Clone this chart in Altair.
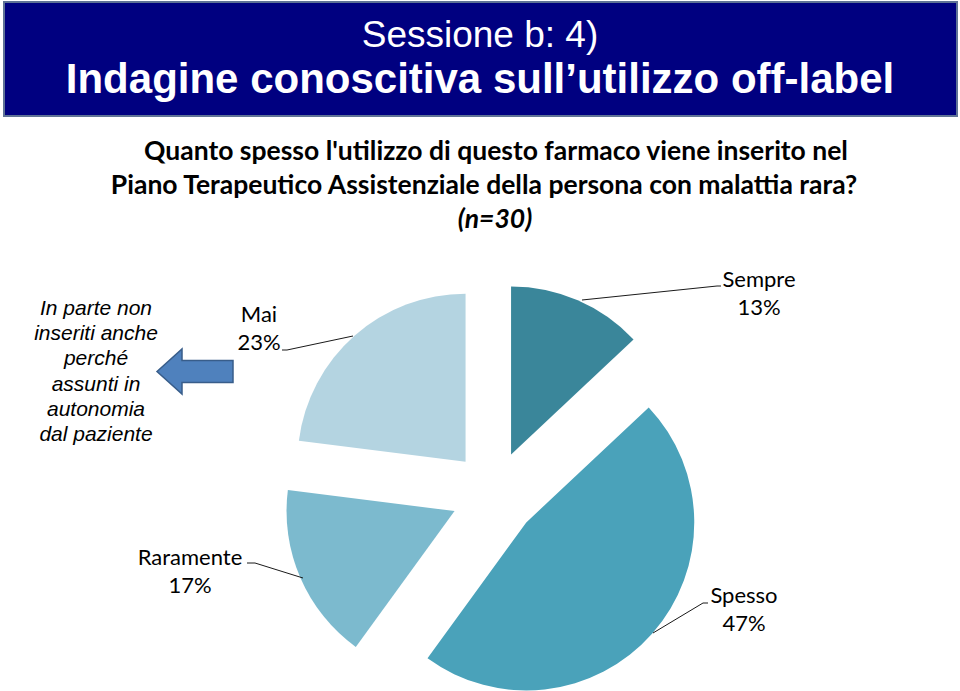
import altair as alt
import pandas as pd

# ---------------- data ----------------
categories = ["Sempre", "Spesso", "Raramente", "Mai"]
percent = [13, 47, 17, 23]
slice_colors = ["#3A869A", "#4AA2BA", "#7CBACE", "#B4D4E1"]

title_lines = ["Sessione b: 4)", "Indagine conoscitiva sull\u2019utilizzo off-label"]
subtitle_lines = [
    "Quanto spesso l'utilizzo di questo farmaco viene inserito nel",
    "Piano Terapeutico Assistenziale della persona con malattia rara?",
    "(n=30)",
]
note_lines = ["In parte non", "inseriti anche", "perché", "assunti in", "autonomia", "dal paziente"]

# ---------------- layout ----------------
W, H = 960, 691
CX, CY, RADIUS, EXPLODE = 494, 494, 168, 43
label_pos = {
    "Sempre": (759, 287),
    "Spesso": (744, 603),
    "Raramente": (190, 565),
    "Mai": (259, 322),
}
leader_pts = {
    "Sempre": [(582, 300), (717, 286), (721, 286)],
    "Spesso": [(653, 633), (703, 603), (708, 603)],
    "Raramente": [(303, 578), (255, 563), (247, 563)],
    "Mai": [(353, 336), (287, 350), (282, 350)],
}
LABEL_FONT = "Lato"
TITLE_FONT = "Liberation Sans"

slices = pd.DataFrame({"category": categories, "value": percent, "order": range(len(categories))})
labels = pd.DataFrame({
    "category": categories,
    "value": percent,
    "lx": [label_pos[c][0] for c in categories],
    "ly": [label_pos[c][1] for c in categories],
})
leaders = pd.DataFrame(
    [{"line": c, "idx": i, "x": p[0], "y": p[1]} for c in categories for i, p in enumerate(leader_pts[c])]
)

total = sum(percent)

# ---------------- pie ----------------
pie = (
    alt.Chart(slices)
    .transform_joinaggregate(total="sum(value)")
    .transform_window(cum="sum(value)", sort=[alt.SortField("order")], frame=[None, 0])
    .transform_calculate(
        start="datum.cum - datum.value",
        mid="(datum.cum - datum.value / 2) / datum.total * 2 * PI",
    )
    .transform_calculate(
        cx=f"{CX} + {EXPLODE} * sin(datum.mid)",
        cy=f"{CY} - {EXPLODE} * cos(datum.mid)",
    )
    .mark_arc(radius=RADIUS, stroke=None)
    .encode(
        theta=alt.Theta("start:Q", scale=alt.Scale(domain=[0, total], range=[0, 6.283185307179586])),
        theta2="cum:Q",
        x=alt.X("cx:Q", scale=None),
        y=alt.Y("cy:Q", scale=None),
        color=alt.Color("category:N", scale=alt.Scale(domain=categories, range=slice_colors), legend=None),
    )
)

slice_labels = (
    alt.Chart(labels)
    .transform_calculate(label="datum.category + '\\n' + datum.value + '%'")
    .mark_text(font=LABEL_FONT, fontSize=22, lineBreak="\n", lineHeight=28, align="center",
               baseline="alphabetic", color="#000000")
    .encode(x=alt.X("lx:Q", scale=None), y=alt.Y("ly:Q", scale=None), text="label:N")
)

leader_lines = (
    alt.Chart(leaders)
    .mark_line(color="#1a1a1a", strokeWidth=1)
    .encode(
        x=alt.X("x:Q", scale=None),
        y=alt.Y("y:Q", scale=None),
        detail="line:N",
        order="idx:Q",
    )
)

# ---------------- banner ----------------
banner = alt.Chart(pd.DataFrame({"a": [0]})).mark_rect(
    fill="#000080", stroke="#5F7396", strokeWidth=2
).encode(x=alt.value(4), x2=alt.value(957), y=alt.value(2), y2=alt.value(116))

title1 = alt.Chart(pd.DataFrame({"t": [title_lines[0]]})).mark_text(
    font=TITLE_FONT, fontSize=37, color="white", align="center", baseline="alphabetic"
).encode(x=alt.value(480), y=alt.value(47), text="t:N")

title2 = alt.Chart(pd.DataFrame({"t": [title_lines[1]]})).mark_text(
    font=TITLE_FONT, fontSize=42, fontWeight="bold", color="white", align="center", baseline="alphabetic"
).encode(x=alt.value(480), y=alt.value(93), text="t:N")

sub_pos = [(496, 160), (484, 194), (495, 228)]
sub_layers = []
for i, (line, (sx, sy)) in enumerate(zip(subtitle_lines, sub_pos)):
    sub_layers.append(
        alt.Chart(pd.DataFrame({"t": [line]})).mark_text(
            font=LABEL_FONT, fontSize=26.5, fontWeight="bold",
            fontStyle="italic" if i == 2 else "normal",
            color="#000000", align="center", baseline="alphabetic",
        ).encode(x=alt.value(sx), y=alt.value(sy), text="t:N")
    )

note = alt.Chart(pd.DataFrame({"t": ["\n".join(note_lines)]})).mark_text(
    font=TITLE_FONT, fontSize=21, fontStyle="italic", lineBreak="\n", lineHeight=25.2,
    align="center", baseline="alphabetic", color="#000000",
).encode(x=alt.value(96), y=alt.value(315), text="t:N")

ARROW = "M -1 0 L -0.342 -0.592 L -0.342 -0.289 L 1 -0.289 L 1 0.289 L -0.342 0.289 L -0.342 0.592 Z"
arrow = alt.Chart(pd.DataFrame({"a": [0]})).mark_point(
    shape=ARROW, filled=True, fill="#4F81BD", stroke="#385D8A", strokeWidth=1.5, opacity=1, size=5776
).encode(x=alt.value(195), y=alt.value(371.5))

chart = (
    alt.layer(banner, title1, title2, *sub_layers, note, arrow, pie, leader_lines, slice_labels)
    .properties(width=W, height=H, autosize=alt.AutoSizeParams(type="none"), padding=0,
                background="white")
    .configure_view(stroke=None)
)

chart.save("out.html", embed_options={"renderer": "svg", "actions": False})
